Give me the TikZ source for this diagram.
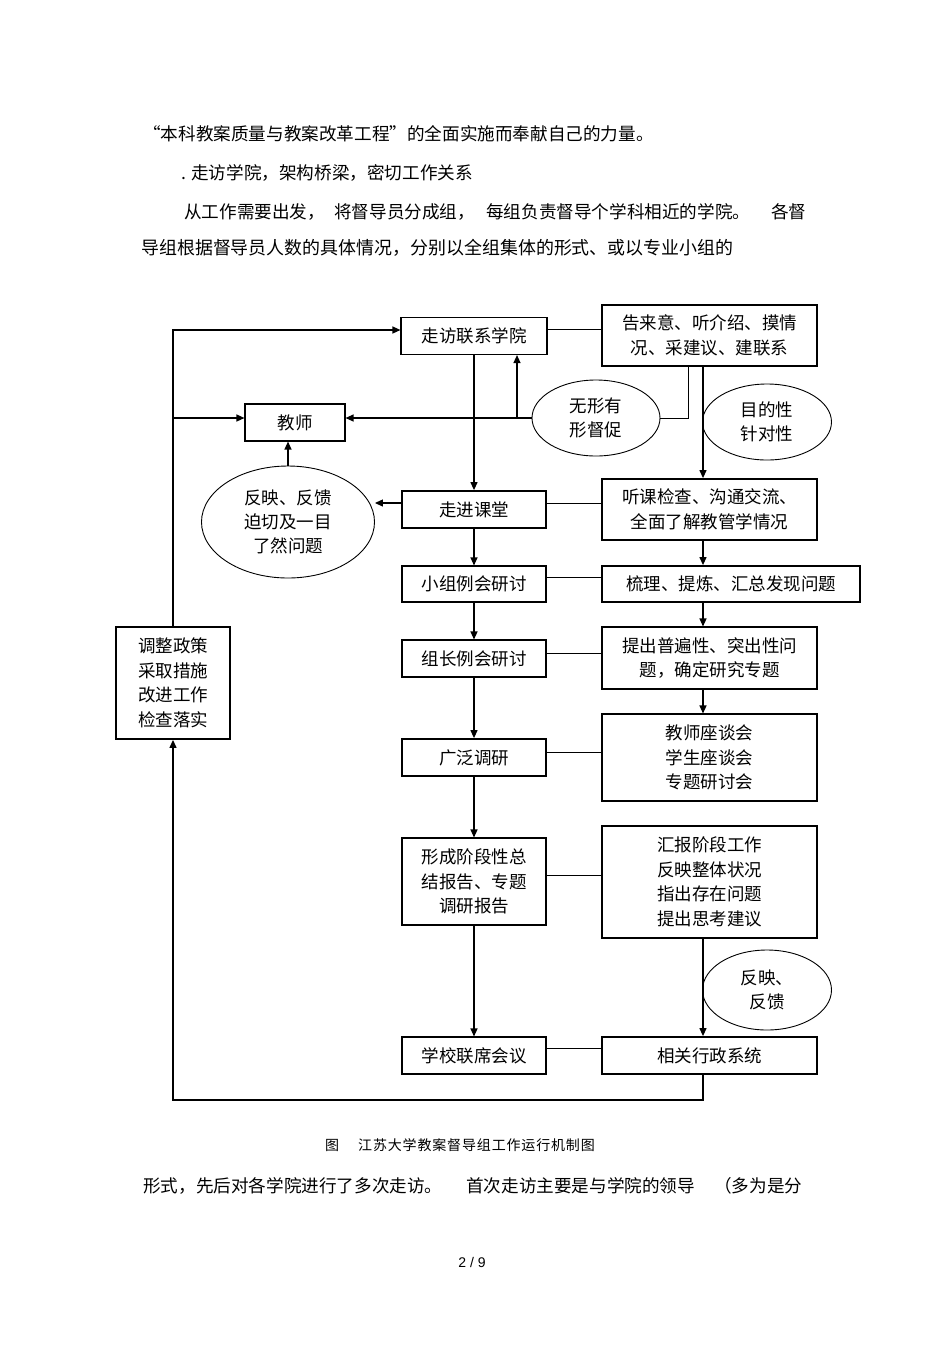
\documentclass[tikz,border=0pt]{standalone}
\usepackage{fontspec}
\setmainfont{Noto Sans CJK SC}
\newfontfamily\capfont[LetterSpace=6]{Noto Sans CJK SC}
\newfontfamily\numfont{Liberation Sans}
\usetikzlibrary{arrows.meta,shapes.geometric}
\begin{document}
\begin{tikzpicture}[x=1pt,y=-1pt,
  bx/.style={draw, line width=1.1pt, inner sep=0pt, align=center, font=\fontsize{17.5}{24.5}\selectfont},
  tbx/.style={bx, line width=1.8pt},
  ell/.style={draw, ellipse, line width=0.9pt, inner sep=0pt, align=center, font=\fontsize{17.5}{24.5}\selectfont},
  arr/.style={line width=1.2pt, -{Triangle[length=8pt,width=7pt]}},
  ln/.style={line width=0.9pt},
  body/.style={anchor=base west, inner sep=0pt, font=\fontsize{17.6}{20}\selectfont},
  captext/.style={anchor=base west, inner sep=0pt, font=\fontsize{14}{16}\capfont},
]
\useasboundingbox (0,0) rectangle (950,1345);

% body text
\node[body] (t1) at (143,140) {“本科教案质量与教案改革工程”的全面实施而奉献自己的力量。};
\node[body] (t2) at (181,179) {. 走访学院，架构桥梁，密切工作关系};
\node[body] (t3a) at (184,218) {从工作需要出发，};
\node[body] (t3b) at (334,218) {将督导员分成组，};
\node[body] (t3c) at (486,218) {每组负责督导个学科相近的学院。};
\node[body] (t3d) at (771,218) {各督};
\node[body, font=\fontsize{17.95}{20}\selectfont] (t4) at (141,254) {导组根据督导员人数的具体情况，分别以全组集体的形式、或以专业小组的};

% boxes
\node[bx, minimum width=146, minimum height=37] (visit) at (474,336) {走访联系学院};
\node[tbx, minimum width=215, minimum height=61] (intro) at (709.5,335.5) {告来意、听介绍、摸情\\况、采建议、建联系};
\node[bx, minimum width=100, minimum height=37] (teacher) at (295,422.5) {教师};
\node[ell, minimum width=128, minimum height=76] (e1) at (596,418) {无形有\\形督促};
\node[ell, minimum width=129, minimum height=76] (e2) at (767,422) {目的性\\针对性};
\node[ell, minimum width=173, minimum height=112, font=\fontsize{17.5}{24}\selectfont] (e3) at (288,522) {反映、反馈\\迫切及一目\\了然问题};
\node[tbx, minimum width=144, minimum height=37] (class) at (474,509.5) {走进课堂};
\node[tbx, minimum width=215, minimum height=61] (listen) at (709.5,509.5) {听课检查、沟通交流、\\全面了解教管学情况};
\node[bx, minimum width=144, minimum height=36] (group) at (474,584) {小组例会研讨};
\node[tbx, minimum width=258, minimum height=36] (sort) at (731,584) {梳理、提炼、汇总发现问题};
\node[bx, minimum width=144, minimum height=37] (leader) at (474,658.5) {组长例会研讨};
\node[bx, minimum width=215, minimum height=62] (raise) at (709.5,658) {提出普遍性、突出性问\\题，确定研究专题};
\node[tbx, minimum width=144, minimum height=37] (survey) at (474,757.5) {广泛调研};
\node[bx, minimum width=215, minimum height=87] (meet) at (709.5,757.5) {教师座谈会\\学生座谈会\\专题研讨会};
\node[bx, minimum width=144, minimum height=87] (form) at (474,881.5) {形成阶段性总\\结报告、专题\\调研报告};
\node[tbx, minimum width=215, minimum height=112] (report) at (709.5,882) {汇报阶段工作\\反映整体状况\\指出存在问题\\提出思考建议};
\node[ell, minimum width=129, minimum height=80] (e4) at (767,990) {反映、\\反馈};
\node[bx, minimum width=144, minimum height=37] (school) at (474,1055.5) {学校联席会议};
\node[tbx, minimum width=215, minimum height=37] (admin) at (709.5,1055.5) {相关行政系统};
\node[tbx, minimum width=114, minimum height=112] (adjust) at (173,683) {调整政策\\采取措施\\改进工作\\检查落实};

% coordinates
\coordinate (top) at (173,330);
\coordinate (b2) at (173,418);
\coordinate (b1) at (517,418);
\coordinate (bot) at (173,1100);

% left loop
\draw[arr] (adjust.north) -- (top) -- (visit.west |- top);
\draw[arr] (b2) -- (teacher.west |- b2);
\draw[arr] ([xshift=-6.5pt]admin.south) |- (bot) -- (adjust.south);

% teacher feedback
\draw[arr] (e1.west) -- (teacher.east |- e1.west);
\draw[arr] (b1) -- (b1 |- visit.south);
\draw[ln] (e1.east) -| ([xshift=-21.5pt]intro.south);
\draw[arr] ([yshift=6.5pt]class.west) -- ([yshift=6.5pt]class.west -| e3.east);
\draw[arr] (e3.north) -- (e3.north |- teacher.south);

% middle column
\draw[arr] (visit.south) -- (class.north);
\draw[arr] (class.south) -- (group.north);
\draw[arr] (group.south) -- (leader.north);
\draw[arr] (leader.south) -- (survey.north);
\draw[arr] (survey.south) -- (form.north);
\draw[arr] (form.south) -- (school.north);

% right column
\draw[arr] ([xshift=-6.5pt]intro.south) -- ([xshift=-6.5pt]listen.north);
\draw[arr] ([xshift=-6.5pt]listen.south) -- ([xshift=-28pt]sort.north);
\draw[arr] ([xshift=-28pt]sort.south) -- ([xshift=-6.5pt]raise.north);
\draw[arr] ([xshift=-6.5pt]raise.south) -- ([xshift=-6.5pt]meet.north);
\draw[arr] ([xshift=-6.5pt]report.south) -- ([xshift=-6.5pt]admin.north);

% horizontal links
\draw[ln] ([yshift=7pt]visit.east) -- ([yshift=7pt]visit.east -| intro.west);
\draw[ln] ([yshift=6.5pt]class.east) -- ([yshift=6.5pt]class.east -| listen.west);
\draw[ln] ([yshift=7pt]group.east) -- ([yshift=7pt]group.east -| sort.west);
\draw[ln] ([yshift=5.5pt]leader.east) -- ([yshift=5.5pt]leader.east -| raise.west);
\draw[ln] ([yshift=5.5pt]survey.east) -- ([yshift=5.5pt]survey.east -| meet.west);
\draw[ln] ([yshift=6.5pt]form.east) -- ([yshift=6.5pt]form.east -| report.west);
\draw[ln] ([yshift=7.5pt]school.east) -- ([yshift=7.5pt]school.east -| admin.west);

% caption and following text
\node[captext] (c1) at (325,1150) {图};
\node[captext] (c2) at (358,1150) {江苏大学教案督导组工作运行机制图};
\node[body] (t5a) at (143,1192) {形式，先后对各学院进行了多次走访。};
\node[body] (t5b) at (466,1192) {首次走访主要是与学院的领导};
\node[body] (t5c) at (714,1192) {（多为是分};
\node[anchor=base, inner sep=0pt, font=\fontsize{14}{16}\numfont] (pg) at (472,1267) {2 / 9};
\end{tikzpicture}
\end{document}
